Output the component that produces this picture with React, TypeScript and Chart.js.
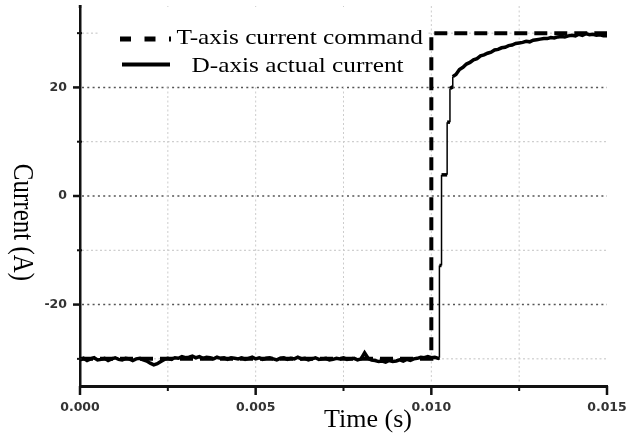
import React, { useEffect, useRef } from 'react';
import { Chart, registerables } from 'chart.js';

Chart.register(...registerables);

// ---- data ----
const commandTime = [0, 0.01, 0.01, 0.015];
const commandCurrent = [-30, -30, 30, 30];

const sampleStep = 0.0001;
const lowStart = 0;
const lowCurrent = [
  -30.2, -29.9, -30.3, -30.0, -29.8, -30.2, -30.1, -29.9, -30.3, -30.0,
  -29.8, -30.1, -30.2, -29.9, -30.0, -30.3, -30.0, -29.9, -30.2, -30.4,
  -30.8, -31.1, -30.9, -30.5, -30.1, -29.9, -30.1, -29.8, -29.9, -29.6,
  -29.8, -29.7, -29.5, -29.8, -29.6, -29.9, -29.7, -29.8, -30.0, -29.7,
  -29.9, -29.8, -30.1, -29.8, -29.9, -30.0, -29.8, -30.1, -29.9, -29.7,
  -30.0, -29.8, -30.1, -29.9, -29.8, -30.0, -30.2, -29.9, -29.8, -30.1,
  -29.9, -30.0, -29.7, -30.0, -29.9, -30.2, -30.0, -29.8, -30.1, -30.0,
  -29.9, -30.2, -30.1, -29.9, -30.0, -29.8, -30.1, -30.0, -29.9, -30.2,
  -30.0, -28.9, -29.9, -30.2, -30.3, -30.5, -30.4, -30.6, -30.3, -30.5,
  -30.4, -30.2, -30.4, -30.1, -30.3, -30.0, -29.9, -29.7, -29.8, -29.6,
  -29.8,
];

const stepTime = [0.0101, 0.0102, 0.01023, 0.01023, 0.01029, 0.01029, 0.01045, 0.01045, 0.01053, 0.01053, 0.01061, 0.01061];
const stepCurrent = [-29.7, -29.9, -29.8, -12.8, -12.8, 3.9, 3.9, 13.6, 13.6, 19.8, 20.1, 22.0];

const settleStart = 0.0107;
const settleCurrent = [
  22.4, 23.3, 23.7, 24.3, 24.6, 25.1, 25.3, 25.8, 26.0, 26.3,
  26.5, 26.9, 27.0, 27.3, 27.4, 27.7, 27.8, 28.1, 28.2, 28.3,
  28.5, 28.4, 28.7, 28.8, 28.9, 29.0, 29.0, 29.2, 29.1, 29.3,
  29.4, 29.3, 29.5, 29.6, 29.5, 29.8, 29.6, 29.9, 29.7, 29.8,
  29.6, 29.7, 29.5, 29.5,
];

const xTickValues = [0, 0.0025, 0.005, 0.0075, 0.01, 0.0125, 0.015];
const yTickValues = [-30, -20, -10, 0, 10, 20, 30];
const xLabelValues = [0, 0.005, 0.01, 0.015];
const yLabelValues = [-20, 0, 20];

const commandLabel = 'T-axis current command';
const actualLabel = 'D-axis actual current';
const xTitle = 'Time (s)';
const yTitle = 'Current (A)';

const near = (v: number, list: number[], tol: number) => list.some((l) => Math.abs(l - v) < tol);
const isXLabel = (v: number) => near(v, xLabelValues, 1e-7);
const isYLabel = (v: number) => near(v, yLabelValues, 1e-6);

const SERIF = '"Liberation Serif", "Times New Roman", serif';

const decorPlugin = {
  id: 'decor',
  beforeDatasetsDraw(chart: any) {
    const { ctx, chartArea: a, scales } = chart;
    const x = scales.x;
    const y = scales.y;
    ctx.save();
    // horizontal grid lines
    for (const t of y.ticks) {
      const py = y.getPixelForValue(t.value);
      const major = isYLabel(t.value);
      ctx.strokeStyle = major ? '#555555' : '#c2c2c2';
      ctx.lineWidth = major ? 1.5 : 1;
      ctx.setLineDash(major ? [2, 3.3] : [2, 2.5]);
      ctx.beginPath();
      ctx.moveTo(a.left + 2, py);
      ctx.lineTo(a.right, py);
      ctx.stroke();
    }
    // vertical grid lines
    for (const t of x.ticks) {
      if (Math.abs(t.value - x.min) < 1e-9 || Math.abs(t.value - x.max) < 1e-9) continue;
      const px = x.getPixelForValue(t.value);
      ctx.strokeStyle = '#cccccc';
      ctx.lineWidth = 1;
      ctx.setLineDash([2, 2.5]);
      ctx.beginPath();
      ctx.moveTo(px, a.top);
      ctx.lineTo(px, a.bottom - 2);
      ctx.stroke();
    }
    ctx.restore();
  },
  afterDatasetsDraw(chart: any) {
    const { ctx } = chart;
    ctx.save();
    // legend box
    ctx.fillStyle = '#ffffff';
    ctx.fillRect(100, 7, 328, 79);
    // dashed sample
    ctx.strokeStyle = '#000';
    ctx.lineWidth = 5;
    ctx.setLineDash([11, 13.5]);
    ctx.beginPath();
    ctx.moveTo(120, 39);
    ctx.lineTo(171, 39);
    ctx.stroke();
    // solid sample
    ctx.setLineDash([]);
    ctx.lineWidth = 4;
    ctx.beginPath();
    ctx.moveTo(122, 64.5);
    ctx.lineTo(170, 64.5);
    ctx.stroke();
    // legend text
    ctx.fillStyle = '#000';
    ctx.font = `22px ${SERIF}`;
    ctx.textAlign = 'left';
    ctx.textBaseline = 'alphabetic';
    const ds = chart.data.datasets;
    ctx.save();
    ctx.translate(176.5, 44.3);
    ctx.scale(1.15, 1);
    ctx.fillText(ds[0].label, 0, 0);
    ctx.restore();
    ctx.save();
    ctx.translate(191.5, 72.3);
    ctx.scale(1.15, 1);
    ctx.fillText(ds[1].label, 0, 0);
    ctx.restore();
    ctx.restore();
  },
  afterDraw(chart: any) {
    const { ctx, chartArea: a, scales } = chart;
    const x = scales.x;
    const y = scales.y;
    ctx.save();
    ctx.strokeStyle = '#111';
    ctx.setLineDash([]);
    // y ticks
    for (const t of y.ticks) {
      const py = y.getPixelForValue(t.value);
      const major = isYLabel(t.value);
      ctx.lineWidth = major ? 2.5 : 2;
      ctx.beginPath();
      if (major) {
        ctx.moveTo(a.left - 7, py);
        ctx.lineTo(a.left, py);
      } else {
        ctx.moveTo(a.left - 3, py);
        ctx.lineTo(a.left + 2, py);
      }
      ctx.stroke();
    }
    // x ticks
    for (const t of x.ticks) {
      const px = x.getPixelForValue(t.value);
      const major = isXLabel(t.value);
      ctx.lineWidth = major ? 2.5 : 2;
      ctx.beginPath();
      ctx.moveTo(px, a.bottom);
      ctx.lineTo(px, a.bottom + (major ? 9 : 5));
      ctx.stroke();
    }
    // y axis top extension
    ctx.lineWidth = 2.5;
    ctx.beginPath();
    ctx.moveTo(a.left, a.top - 1);
    ctx.lineTo(a.left, a.top + 2);
    ctx.stroke();

    // axis titles
    ctx.fillStyle = '#000';
    ctx.textAlign = 'center';
    ctx.textBaseline = 'alphabetic';
    ctx.font = `26px ${SERIF}`;
    ctx.fillText(chart.options.scales.x.title.text, 368, 426.5);

    ctx.save();
    ctx.font = `25px ${SERIF}`;
    ctx.translate(13.5, 222.5);
    ctx.scale(1.2, 1);
    ctx.rotate(Math.PI / 2);
    ctx.fillText(chart.options.scales.y.title.text, 0, 0);
    ctx.restore();
    ctx.restore();
  },
};

export default function App() {
  const canvasRef = useRef<HTMLCanvasElement | null>(null);

  useEffect(() => {
    const canvas = canvasRef.current;
    if (!canvas) return;

    const actualPoints = [
      ...lowCurrent.map((v, i) => ({ x: lowStart + i * sampleStep, y: v })),
      ...stepTime.map((t, i) => ({ x: t, y: stepCurrent[i] })),
      ...settleCurrent.map((v, i) => ({ x: settleStart + i * sampleStep, y: v })),
    ];
    const commandPoints = commandTime.map((t, i) => ({ x: t, y: commandCurrent[i] }));

    const tickFont = { family: '"DejaVu Sans", sans-serif', size: 12.5, weight: 'bold' };

    const chart = new Chart(canvas, {
      type: 'line',
      data: {
        datasets: [
          {
            label: commandLabel,
            data: commandPoints,
            borderColor: '#000',
            borderWidth: 4,
            borderDash: [13, 7],
            pointRadius: 0,
            tension: 0,
            fill: false,
            order: 1,
          },
          {
            label: actualLabel,
            data: actualPoints,
            borderColor: '#000',
            borderWidth: 3.5,
            pointRadius: 0,
            tension: 0,
            fill: false,
            order: 0,
            segment: {
              borderWidth: (c: any) => (c.p0.parsed.x === c.p1.parsed.x ? 1.5 : 3.5),
            },
          },
        ],
      },
      plugins: [decorPlugin],
      options: {
        animation: false,
        responsive: true,
        maintainAspectRatio: false,
        layout: { padding: { top: 6, right: 0, bottom: 0, left: 0 } },
        plugins: {
          legend: { display: false },
          tooltip: { enabled: false },
        },
        scales: {
          x: {
            type: 'linear',
            min: 0,
            max: 0.015,
            grid: { display: false, drawTicks: false, drawOnChartArea: false },
            border: { display: true, color: '#111', width: 3 },
            title: { display: false, text: xTitle },
            afterBuildTicks: (s: any) => {
              s.ticks = xTickValues.map((v) => ({ value: v }));
            },
            ticks: {
              autoSkip: false,
              maxRotation: 0,
              padding: 14,
              color: '#333',
              font: tickFont,
              callback: (v: any) => (isXLabel(Number(v)) ? Number(v).toFixed(3) : ''),
            },
            afterFit: (s: any) => {
              s.height = 51;
              s.paddingLeft = 0;
              s.paddingRight = 21;
            },
          },
          y: {
            type: 'linear',
            min: -35,
            max: 35,
            grid: { display: false, drawTicks: false, drawOnChartArea: false },
            border: { display: true, color: '#111', width: 2.5 },
            title: { display: false, text: yTitle },
            afterBuildTicks: (s: any) => {
              s.ticks = yTickValues.map((v) => ({ value: v }));
            },
            ticks: {
              autoSkip: false,
              padding: 13,
              color: '#333',
              font: tickFont,
              callback: (v: any) => (isYLabel(Number(v)) ? String(Math.round(Number(v))) : ''),
            },
            afterFit: (s: any) => {
              s.width = 80;
              s.paddingTop = 0;
              s.paddingBottom = 0;
            },
          },
        },
      } as any,
    });

    return () => chart.destroy();
  }, []);

  return (
    <div style={{ position: 'fixed', left: 0, top: 0, width: 628, height: 437, background: '#fff' }}>
      <canvas ref={canvasRef} />
    </div>
  );
}
